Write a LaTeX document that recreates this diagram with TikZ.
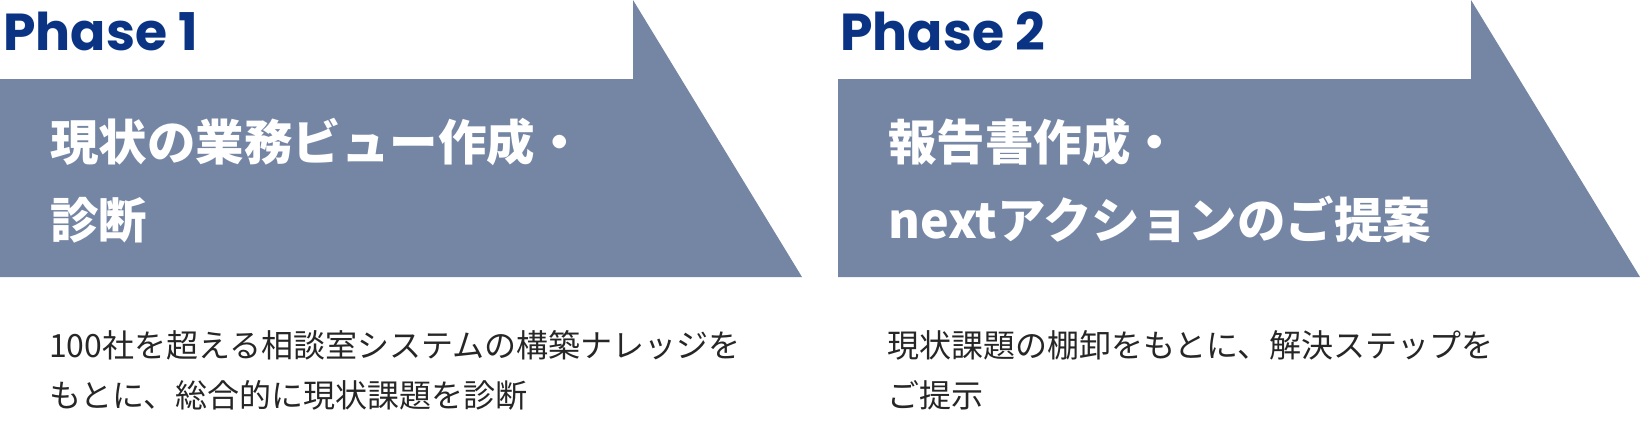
\documentclass[tikz,border=0pt]{standalone}
\usepackage{fontspec}
\newfontfamily\cjk{Noto Sans CJK JP}
\newfontfamily\pop{Poppins}
\definecolor{phgray}{HTML}{7586A5}
\definecolor{phblue}{HTML}{0A3384}
\definecolor{bodytext}{HTML}{262626}
\tikzset{
  arrowshape/.style={fill=phgray, draw=none},
  phaselabel/.style={anchor=base west, inner sep=0pt, text=phblue, font={\pop\bfseries\fontsize{52}{60}\selectfont}},
  titletext/.style={anchor=base west, inner sep=0pt, text=white, font={\cjk\bfseries\fontsize{48.5}{56}\selectfont}},
  bodyline/.style={anchor=base west, inner sep=0pt, text=bodytext, font={\cjk\fontsize{32}{40}\selectfont}}
}
\begin{document}
\begin{tikzpicture}[x=1pt,y=-1pt]
\useasboundingbox (0,0) rectangle (1640,423);
% phase 1 arrow
\fill[arrowshape] (0,79) -- (633,79) -- (633,0) -- (802,277) -- (0,277) -- cycle;
% phase 2 arrow
\fill[arrowshape] (838,79) -- (1471,79) -- (1471,0) -- (1640,277) -- (838,277) -- cycle;

\node[phaselabel] (p1) at (3,50) {Phase 1};
\node[phaselabel] (p2) at (840,50) {Phase 2};

\node[titletext] (t1a) at (50,160) {現状の業務ビュー作成・};
\node[titletext] (t1b) at (50,238) {診断};
\node[titletext] (t2a) at (888,160) {報告書作成・};
\node[titletext] (t2b) at (888,238) {nextアクションのご提案};

\node[bodyline] (b1a) at (49,357) {100社を超える相談室システムの構築ナレッジを};
\node[bodyline] (b1b) at (49,407) {もとに、総合的に現状課題を診断};
\node[bodyline] (b2a) at (887,357) {現状課題の棚卸をもとに、解決ステップを};
\node[bodyline] (b2b) at (887,407) {ご提示};
\end{tikzpicture}
\end{document}
